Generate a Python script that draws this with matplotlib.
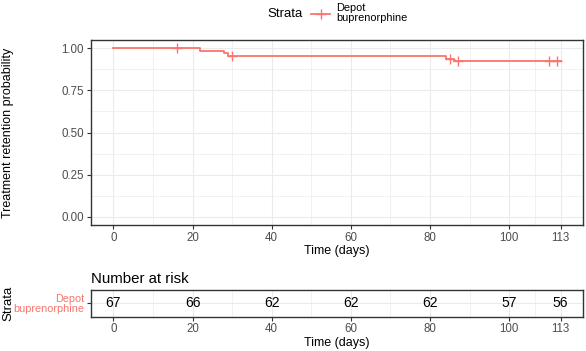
import matplotlib
matplotlib.use("Agg")
import matplotlib.pyplot as plt
import numpy as np
from matplotlib.lines import Line2D

plt.rcParams['font.family'] = ['Liberation Sans', 'DejaVu Sans']

# ---- data ----
event_times = [0, 22, 28, 29, 84, 86]
surv = [1.0, 0.985, 0.970, 0.955, 0.940, 0.924]
end_time = 113
censor_times = [16, 30, 85, 87, 110, 112]
risk_times = [0, 20, 40, 60, 80, 100, 113]
n_risk = [67, 66, 62, 62, 62, 57, 56]
x_breaks = [0, 20, 40, 60, 80, 100, 113]
y_breaks = [0.0, 0.25, 0.5, 0.75, 1.0]
strata_label = "Depot\nbuprenorphine"

RED = "#F8766D"
GRID = "#EBEBEB"
BORDER = "#333333"
TICKC = "#4D4D4D"

W, H = 586, 351
fig = plt.figure(figsize=(W / 100, H / 100), dpi=100)

def rect(l, t, r, b):
    return [l / W, 1 - b / H, (r - l) / W, (b - t) / H]

xmin, xmax = -5.65, 118.65
x_minor = [10, 30, 50, 70, 90, 106.5]
AXL, AXR = 91, 583

def style(ax):
    for s in ax.spines.values():
        s.set_color(BORDER)
        s.set_linewidth(1.0)
    ax.tick_params(colors=BORDER, labelcolor=TICKC, labelsize=8.3, length=3, width=0.8, pad=2)
    ax.set_xlim(xmin, xmax)
    ax.set_xticks(x_breaks)
    ax.set_xticks(x_minor, minor=True)
    ax.tick_params(which='minor', length=0)
    ax.grid(which='major', color=GRID, linewidth=0.8)
    ax.grid(which='minor', color=GRID, linewidth=0.5)
    ax.set_axisbelow(True)

# ---- main KM plot ----
ax = fig.add_axes(rect(AXL, 40, AXR, 225))
style(ax)
ax.set_ylim(-0.05, 1.05)
ax.set_yticks(y_breaks)
ax.set_yticklabels(["%.2f" % v for v in y_breaks])
ax.set_yticks([0.125, 0.375, 0.625, 0.875], minor=True)

xs = list(event_times) + [end_time]
ys = list(surv) + [surv[-1]]
ax.step(xs, ys, where='post', color=RED, linewidth=1.3)

def s_at(t):
    v = surv[0]
    for et, sv in zip(event_times, surv):
        if et <= t:
            v = sv
    return v

ax.plot(censor_times, [s_at(t) for t in censor_times], linestyle='none',
        marker='+', markersize=7.5, markeredgewidth=1.0, color=RED)
ax.set_xlabel("Time (days)", fontsize=9, color="black", labelpad=1)
ax.set_ylabel("Treatment retention probability", fontsize=9, color="black")
ax.yaxis.set_label_coords((14 - AXL) / (AXR - AXL), 0.5)

# ---- legend ----
fig.text(303 / W, 1 - 14 / H, "Strata", fontsize=9.5, ha='right', va='center')
lx = [311 / W, 330 / W]
fig.add_artist(Line2D(lx, [1 - 14 / H] * 2, color=RED, linewidth=1.3))
fig.add_artist(Line2D([320.5 / W], [1 - 14 / H], color=RED, marker='+',
                      markersize=7.5, markeredgewidth=1.0, linestyle='none'))
fig.text(336 / W, 1 - 13 / H, strata_label, fontsize=7.9, ha='left', va='center',
         linespacing=1.0)

# ---- risk table ----
tx = fig.add_axes(rect(AXL, 290, AXR, 316.5))
style(tx)
tx.set_ylim(0.5, 1.5)
tx.set_yticks([1])
tx.set_yticklabels([strata_label], fontsize=7.8, linespacing=1.0)
for lbl in tx.get_yticklabels():
    lbl.set_color(RED)
    lbl.set_horizontalalignment('right')
for t, n in zip(risk_times, n_risk):
    tx.text(t, 1, str(n), ha='center', va='center', fontsize=10, color="black")
tx.set_xlabel("Time (days)", fontsize=9, color="black", labelpad=1)
tx.set_ylabel("Strata", fontsize=9.5, color="black")
tx.yaxis.set_label_coords((14 - AXL) / (AXR - AXL), 0.5)
tx.set_title("Number at risk", fontsize=10.8, loc='left', pad=5, x=0.0)

fig.savefig("out.png", dpi=100)
